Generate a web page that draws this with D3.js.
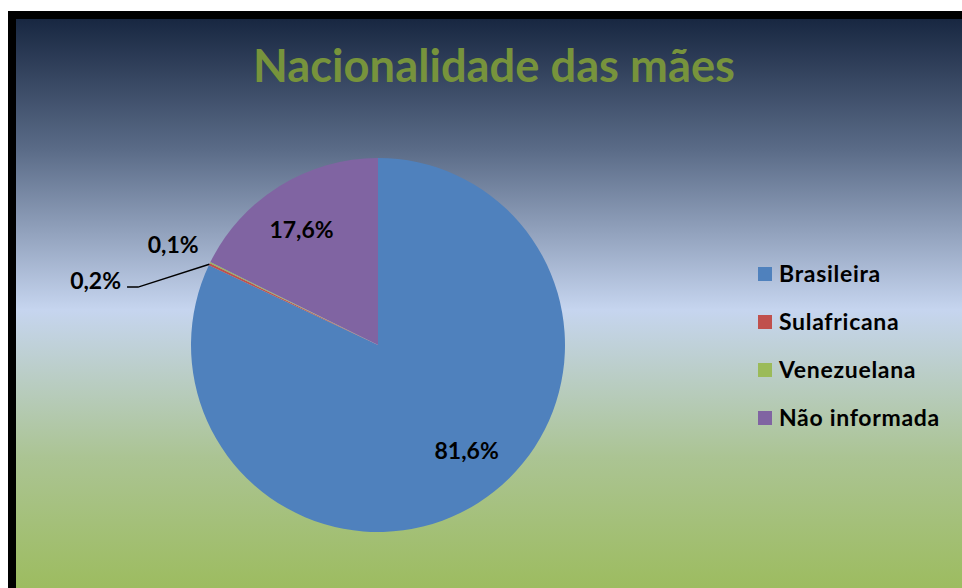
<!DOCTYPE html>
<html>
<head>
<meta charset="utf-8">
<script src="https://cdn.jsdelivr.net/npm/d3@7"></script>
<style>
  body { margin: 0; background: #fff; }
  svg { display: block; font-family: Lato, "Open Sans", sans-serif; font-weight: bold; }
</style>
</head>
<body>
<svg id="chart" width="962" height="588"></svg>
<script>
// data
const categories = ["Brasileira", "Sulafricana", "Venezuelana", "Não informada"];
const values = [81.6, 0.2, 0.1, 17.6];
const labels = ["81,6%", "0,2%", "0,1%", "17,6%"];
const colors = ["#4F81BD", "#C0504D", "#9BBB59", "#8064A2"];

let svg = d3.select("#chart");

// background gradient
let defs = svg.append("defs");
let grad = defs.append("linearGradient")
  .attr("id", "bg").attr("x1", 0).attr("y1", 0).attr("x2", 0).attr("y2", 1);
grad.append("stop").attr("offset", "0%").attr("stop-color", "#16253f");
grad.append("stop").attr("offset", "23%").attr("stop-color", "#5b6c88");
grad.append("stop").attr("offset", "50%").attr("stop-color", "#c6d5ef");
grad.append("stop").attr("offset", "75%").attr("stop-color", "#abc493");
grad.append("stop").attr("offset", "100%").attr("stop-color", "#9bbb59");

svg.append("rect")
  .attr("x", 12).attr("y", 15).attr("width", 1000).attr("height", 590)
  .attr("fill", "url(#bg)")
  .attr("stroke", "#000").attr("stroke-width", 8);

// title
svg.append("text")
  .attr("x", 494).attr("y", 82)
  .attr("text-anchor", "middle")
  .attr("fill", "#77933C")
  .attr("font-size", 45)
  .attr("textLength", 482).attr("lengthAdjust", "spacingAndGlyphs")
  .text("Nacionalidade das mães");

// pie
let cx = 378, cy = 345, R = 187;
let pie = d3.pie().sort(null).value((d) => d.value);
let arcs = pie(categories.map((c, i) => ({ name: c, value: values[i], label: labels[i], color: colors[i] })));
let arc = d3.arc().innerRadius(0).outerRadius(R);

let g = svg.append("g").attr("transform", `translate(${cx},${cy})`);
g.selectAll("path")
  .data(arcs)
  .enter()
  .append("path")
  .attr("d", arc)
  .attr("fill", (d) => d.data.color);

let pt = (a, r) => [Math.sin(a) * r, -Math.cos(a) * r];
let mid = (d) => (d.startAngle + d.endAngle) / 2;

// inside labels for the big slices (Excel "best fit" sits a bit off the centroid)
let innerShift = { "Brasileira": -0.13, "Não informada": -0.03 };
g.selectAll("text.inner")
  .data(arcs.filter((d) => d.data.value > 5))
  .enter()
  .append("text")
  .attr("class", "inner")
  .attr("transform", (d) => `translate(${pt(mid(d) + innerShift[d.data.name], R * 0.74)})`)
  .attr("text-anchor", "middle")
  .attr("dy", "0.35em")
  .attr("font-size", 23)
  .attr("fill", "#000")
  .text((d) => d.data.label);

// small slices: outside labels
let red = arcs[1], green = arcs[2];
let p0 = pt(mid(red), R);
let p1 = pt(mid(red) - 0.21, R * 1.32);
let p2 = [p1[0] - 11, p1[1]];
g.append("path")
  .attr("d", d3.line()([p0, p1, p2]))
  .attr("fill", "none")
  .attr("stroke", "#000")
  .attr("stroke-width", 1.5);
g.append("text")
  .attr("x", p2[0] - 6).attr("y", p2[1])
  .attr("dy", "0.1em")
  .attr("text-anchor", "end")
  .attr("font-size", 23)
  .text(red.data.label);

let gp = pt(mid(green), R * 1.22);
g.append("text")
  .attr("x", gp[0]).attr("y", gp[1])
  .attr("dy", "0.35em")
  .attr("text-anchor", "middle")
  .attr("font-size", 23)
  .text(green.data.label);

// legend
let legend = svg.append("g").attr("transform", "translate(758,274)");
let rows = legend.selectAll("g")
  .data(categories)
  .enter()
  .append("g")
  .attr("transform", (d, i) => `translate(0,${i * 48})`);
rows.append("rect")
  .attr("x", 0).attr("y", -7)
  .attr("width", 14).attr("height", 14)
  .attr("fill", (d, i) => colors[i]);
rows.append("text")
  .attr("x", 21).attr("dy", "0.35em")
  .attr("font-size", 23)
  .attr("letter-spacing", 0.7)
  .attr("fill", "#000")
  .text((d) => d);
</script>
</body>
</html>
